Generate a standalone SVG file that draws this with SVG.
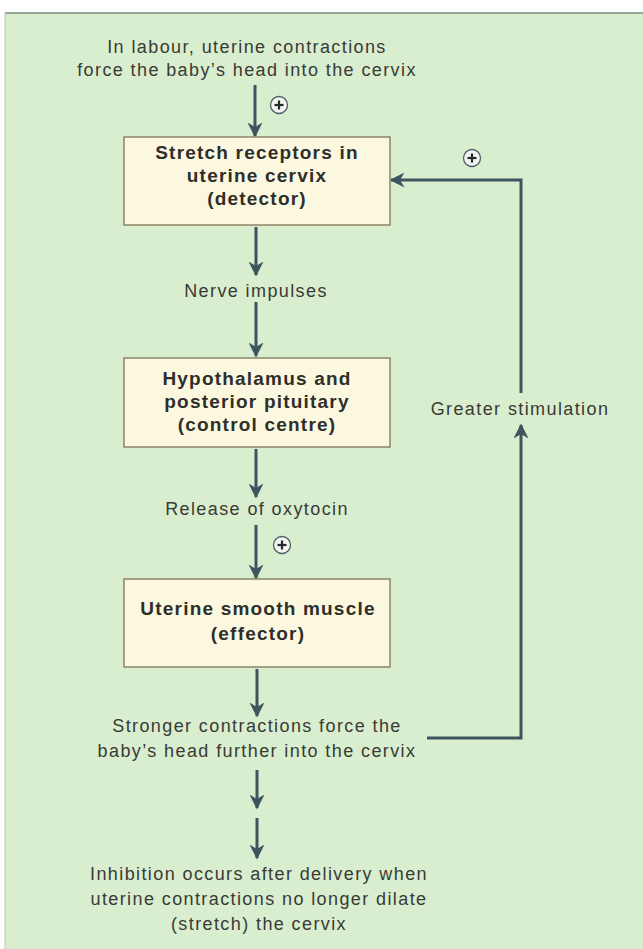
<svg xmlns="http://www.w3.org/2000/svg" width="643" height="949" viewBox="0 0 643 949">
<defs>
<style>
.t{font-family:"Liberation Sans",Arial,sans-serif;font-size:18px;letter-spacing:1.4px;fill:#3a3a36;text-anchor:middle}
.b{font-family:"Liberation Sans",Arial,sans-serif;font-size:19px;letter-spacing:1.2px;font-weight:bold;fill:#2e2e2a;text-anchor:middle}
.box{fill:#fcf8e0;stroke:#8c8466;stroke-width:1.5}
.ln{fill:none;stroke:#3e5560;stroke-width:3}
.pc{fill:#f4f4f0;stroke:#4e5e66;stroke-width:1.3}
.pl{stroke:#1e2a30;stroke-width:2.2}
</style>
<marker id="ah" viewBox="0 0 10 10" refX="9" refY="5" markerWidth="5" markerHeight="5" orient="auto" markerUnits="strokeWidth">
<path d="M0,0 L10,5 L0,10 L3,5 Z" fill="#3e5560"/>
</marker>
<g id="plus"><circle class="pc" r="8.5"/><line class="pl" x1="-4.5" y1="0" x2="4.5" y2="0"/><line class="pl" x1="0" y1="-4.5" x2="0" y2="4.5"/></g>
</defs>
<rect x="0" y="0" width="643" height="949" fill="#ffffff"/>
<rect x="5" y="13" width="640" height="940" fill="#d8eece"/>
<line x1="5" y1="13" x2="643" y2="13" stroke="#7a8a78" stroke-width="1.5"/>
<line x1="5" y1="13" x2="5" y2="949" stroke="#b8ccb0" stroke-width="1"/>

<g id="connectors">
<line class="ln" x1="255" y1="85" x2="255" y2="136" marker-end="url(#ah)"/>
<line class="ln" x1="256" y1="227" x2="256" y2="275" marker-end="url(#ah)"/>
<line class="ln" x1="256" y1="302" x2="256" y2="356" marker-end="url(#ah)"/>
<line class="ln" x1="256" y1="449" x2="256" y2="497" marker-end="url(#ah)"/>
<line class="ln" x1="256" y1="525" x2="256" y2="578" marker-end="url(#ah)"/>
<line class="ln" x1="257" y1="669" x2="257" y2="716" marker-end="url(#ah)"/>
<line class="ln" x1="257" y1="770" x2="257" y2="808" marker-end="url(#ah)"/>
<line class="ln" x1="257" y1="818" x2="257" y2="858" marker-end="url(#ah)"/>
<polyline class="ln" points="427,738 521,738 521,425" marker-end="url(#ah)"/>
<polyline class="ln" points="521,393 521,180 391,180" marker-end="url(#ah)"/>
<use href="#plus" x="279" y="105"/>
<use href="#plus" x="472" y="158"/>
<use href="#plus" x="282" y="545"/>
</g>

<g id="start">
<text class="t" x="247" y="53">In labour, uterine contractions</text>
<text class="t" x="247" y="76">force the baby’s head into the cervix</text>
</g>
<g id="detector">
<rect class="box" x="124" y="137" width="266" height="88"/>
<text class="b" x="257" y="159">Stretch receptors in</text>
<text class="b" x="257" y="182">uterine cervix</text>
<text class="b" x="257" y="205">(detector)</text>
</g>
<g id="nerve"><text class="t" x="256" y="297">Nerve impulses</text></g>
<g id="control">
<rect class="box" x="124" y="358" width="266" height="89"/>
<text class="b" x="257" y="385">Hypothalamus and</text>
<text class="b" x="257" y="408">posterior pituitary</text>
<text class="b" x="257" y="431">(control centre)</text>
</g>
<g id="oxytocin"><text class="t" x="257" y="515">Release of oxytocin</text></g>
<g id="effector">
<rect class="box" x="124" y="579" width="266" height="88"/>
<text class="b" x="258" y="615">Uterine smooth muscle</text>
<text class="b" x="258" y="640">(effector)</text>
</g>
<g id="stronger">
<text class="t" x="257" y="732">Stronger contractions force the</text>
<text class="t" x="257" y="757">baby’s head further into the cervix</text>
</g>
<g id="greater"><text class="t" x="520" y="415">Greater stimulation</text></g>
<g id="inhibition">
<text class="t" x="259" y="880">Inhibition occurs after delivery when</text>
<text class="t" x="259" y="905">uterine contractions no longer dilate</text>
<text class="t" x="259" y="930">(stretch) the cervix</text>
</g>
</svg>
